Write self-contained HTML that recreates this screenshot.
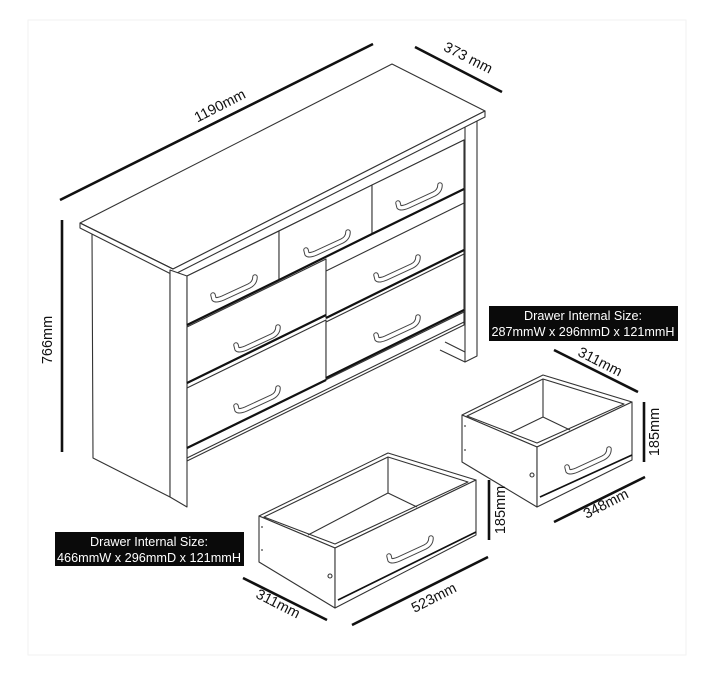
<!DOCTYPE html>
<html><head><meta charset="utf-8"><style>
html,body{margin:0;padding:0;background:#fff;}
svg{display:block;}
text{font-family:"Liberation Sans",sans-serif;}
</style></head><body>
<svg width="715" height="700" viewBox="0 0 715 700" xmlns="http://www.w3.org/2000/svg">
<defs>
<g id="h">
<path d="M-22,9 L-21,13 Q-19,15 -12,12 L14,0 Q20,-3 20,-9" fill="none" stroke="#444" stroke-width="5.5" stroke-linecap="round" stroke-linejoin="round"/>
<path d="M-22,9 L-21,13 Q-19,15 -12,12 L14,0 Q20,-3 20,-9" fill="none" stroke="#fff" stroke-width="3.5" stroke-linecap="round" stroke-linejoin="round"/>
</g>
</defs>
<rect x="28" y="20" width="658" height="635" fill="none" stroke="#f2f2f2" stroke-width="1"/>
<g fill="#fff" stroke="#333" stroke-width="1.1" stroke-linejoin="round">
<!-- left side panel -->
<polygon points="92,232 170,270 170,497 93,458"/>
<!-- right leg -->
<polygon points="465,119 477,113 477,356 465,362"/>
<line x1="440" y1="350" x2="465" y2="362"/>
<line x1="445" y1="342" x2="465" y2="352"/>
<!-- top slab -->
<polygon points="80,223 392,64 485,111 173,269"/>
<polygon points="80,223 173,269 485,111 485,117 479,120 173,275 80,228"/>
<line x1="80" y1="223" x2="173" y2="269"/>
<!-- front frame -->
<polygon points="187,276 464,140 464,325 187,461"/>
<line x1="187" y1="448" x2="464" y2="312"/>
<line x1="187" y1="458" x2="464" y2="322"/>
<!-- left leg -->
<polygon points="170,270 187,276 187,507 170,497"/>
<!-- drawers -->
<polygon points="187,276 279,231 279,280 187,325"/>
<polygon points="279,231 372,185 372,234 279,280"/>
<polygon points="372,185 464,140 464,189 372,234"/>
<polygon points="187,327 326,259 326,315 187,383"/>
<polygon points="187,388 326,320 326,380 187,448"/>
<polygon points="326,271 464,203 464,250 326,318"/>
<polygon points="326,322 464,254 464,310 326,378"/>
</g>
<g stroke="#111" stroke-width="2.2">
<line x1="187" y1="325" x2="279" y2="280"/>
<line x1="279" y1="280" x2="372" y2="234"/>
<line x1="187" y1="383" x2="326" y2="315"/>
<line x1="187" y1="448" x2="326" y2="380"/>
<line x1="326" y1="318" x2="464" y2="250"/>
<line x1="326" y1="378" x2="464" y2="310"/>
<line x1="372" y1="234" x2="464" y2="189"/>
</g>
<use href="#h" x="235" y="286"/>
<use href="#h" x="328" y="241"/>
<use href="#h" x="420" y="194"/>
<use href="#h" x="258" y="336"/>
<use href="#h" x="398" y="266"/>
<use href="#h" x="258" y="397"/>
<use href="#h" x="398" y="326"/>

<!-- small drawer -->
<g fill="#fff" stroke="#333" stroke-width="1.1" stroke-linejoin="round">
<polygon points="462,415 543,375 632,402 537,447"/>
<polygon points="467,416 543,379 624,404 537,443"/>
<polyline fill="none" points="543,379 543,417 510,433"/>
<line x1="543" y1="417" x2="570" y2="430"/>
<polygon points="462,415 537,447 537,507 462,462"/>
<polygon points="537,447 632,402 632,460 537,507"/>
<line x1="540" y1="497" x2="632" y2="455"/>
<circle cx="532" cy="475" r="2"/>
<line x1="464" y1="426" x2="466" y2="426"/>
<line x1="464" y1="450" x2="466" y2="450"/>
</g>
<use href="#h" x="589" y="458"/>

<!-- big drawer -->
<g fill="#fff" stroke="#333" stroke-width="1.1" stroke-linejoin="round">
<polygon points="259,516 388,453 476,480 335,548"/>
<polygon points="264,517 388,457 468,482 335,544"/>
<polyline fill="none" points="388,457 388,493 308,535"/>
<line x1="388" y1="493" x2="417" y2="507"/>
<polygon points="259,516 335,548 335,608 259,562"/>
<polygon points="335,548 476,480 476,535 335,608"/>
<line x1="338" y1="600" x2="476" y2="532"/>
<circle cx="330" cy="576" r="2"/>
<line x1="261" y1="527" x2="263" y2="527"/>
<line x1="261" y1="550" x2="263" y2="550"/>
</g>
<g stroke="#111" stroke-width="1.6">
<line x1="338" y1="600" x2="476" y2="532"/>
<line x1="540" y1="497" x2="632" y2="455"/>
</g>
<use href="#h" x="411" y="547"/>

<!-- dimension lines -->
<g stroke="#111" stroke-width="2.6" stroke-linecap="butt">
<line x1="60" y1="200" x2="373" y2="44"/>
<line x1="415" y1="47" x2="502" y2="92"/>
<line x1="62" y1="220" x2="62" y2="452"/>
<line x1="554" y1="350" x2="638" y2="392"/>
<line x1="644" y1="402" x2="644" y2="462"/>
<line x1="489" y1="480" x2="489" y2="540"/>
<line x1="554" y1="522" x2="645" y2="477"/>
<line x1="352" y1="625" x2="488" y2="557"/>
<line x1="243" y1="578" x2="327" y2="620"/>
</g>
<g font-size="14.5" fill="#111" text-anchor="middle">
<text transform="translate(222,110) rotate(-27)">1190mm</text>
<text transform="translate(466,62) rotate(27)">373 mm</text>
<text transform="translate(52,340) rotate(-90)">766mm</text>
<text transform="translate(598,366) rotate(27)">311mm</text>
<text transform="translate(659,432) rotate(-90)">185mm</text>
<text transform="translate(505,510) rotate(-90)">185mm</text>
<text transform="translate(608,508) rotate(-27)">348mm</text>
<text transform="translate(436,602) rotate(-27)">523mm</text>
<text transform="translate(276,608) rotate(27)">311mm</text>
</g>
<!-- label boxes -->
<rect x="489" y="306" width="189" height="35" fill="#0a0a0a"/>
<g fill="#fff" font-size="12.5" text-anchor="middle">
<text x="583" y="320" textLength="118" lengthAdjust="spacingAndGlyphs">Drawer Internal Size:</text>
<text x="583" y="336" textLength="183" lengthAdjust="spacingAndGlyphs">287mmW x 296mmD x 121mmH</text>
</g>
<rect x="55" y="532" width="189" height="34" fill="#0a0a0a"/>
<g fill="#fff" font-size="12.5" text-anchor="middle">
<text x="149" y="546" textLength="118" lengthAdjust="spacingAndGlyphs">Drawer Internal Size:</text>
<text x="149" y="562" textLength="184" lengthAdjust="spacingAndGlyphs">466mmW x 296mmD x 121mmH</text>
</g>
</svg>
</body></html>
